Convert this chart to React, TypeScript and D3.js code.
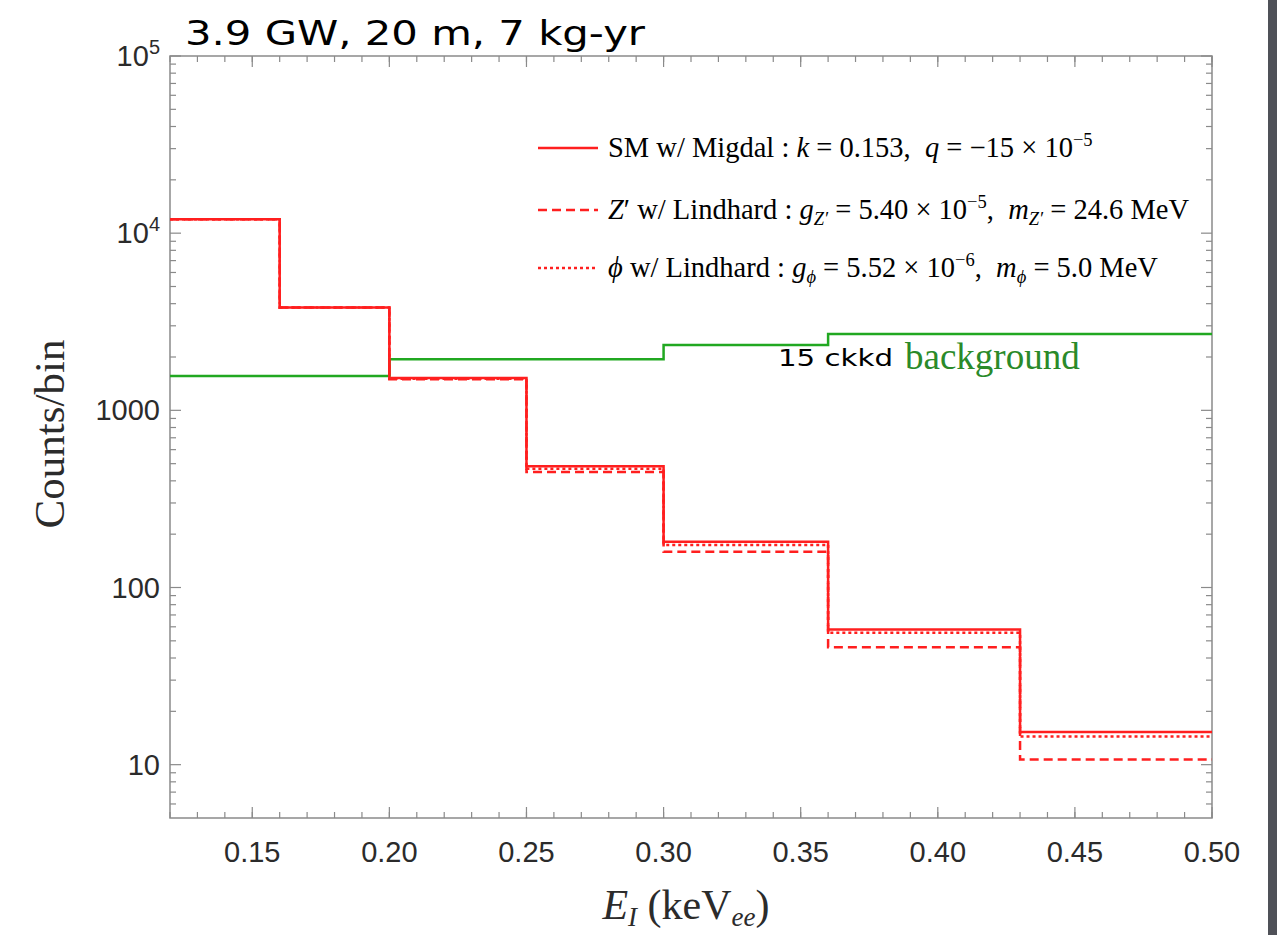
import React from "react";
import * as d3 from "d3";

const binEdges = [0.12, 0.16, 0.2, 0.25, 0.3, 0.36, 0.43, 0.5];
const smMigdal = [12000, 3800, 1520, 484, 181, 58, 15.3];
const zPrimeLindhard = [12000, 3800, 1500, 448, 159, 46, 10.7];
const phiLindhard = [12000, 3800, 1510, 468, 174, 55.5, 14.4];
const background = [1560, 1560, 1940, 1940, 2340, 2700, 2700];

const xTickLabels = ["0.15", "0.20", "0.25", "0.30", "0.35", "0.40", "0.45", "0.50"];
const yMajorTicks = [10, 100, 1000, 10000, 100000];

const W = 1277;
const H = 935;
const L = 170, R = 1212, T = 56, B = 818;

const RED = "#ff1f1f";
const GREEN = "#21a821";
const AXIS = "#8a8a8a";
const LABEL = "#2b2b2b";

export default function App() {
  const x = d3.scaleLinear().domain([0.12, 0.5]).range([L, R]);
  const y = d3.scaleLog().domain([5, 100000]).range([B, T]);

  const stepPoints = (vals: number[]) => {
    const pts: [number, number][] = [];
    vals.forEach((v, i) => {
      pts.push([x(binEdges[i]), y(v)]);
      pts.push([x(binEdges[i + 1]), y(v)]);
    });
    return pts;
  };
  const line = d3.line();

  const xMinor = d3.range(12, 51).map((d) => d / 100);
  const xMajor = xTickLabels.map((s) => +s);

  const yMinor: number[] = [];
  for (let d = 0; d < 5; d++) {
    for (let k = 2; k <= 9; k++) {
      const v = k * Math.pow(10, d);
      if (v > 5 && v < 100000) yMinor.push(v);
    }
  }

  const majLen = 11;
  const minLen = 6;

  const sansTick = "'Liberation Sans', Arial, sans-serif";
  const serif = "'Liberation Serif', 'Times New Roman', serif";
  const handFont = "'DejaVu Sans', 'Comic Sans MS', sans-serif";

  const legendRows = [
    { y: 148, dash: undefined as string | undefined },
    { y: 210, dash: "9,5" },
    { y: 268, dash: "3,3" },
  ];
  const LF = 28.5;
  const SF = 18.5;
  const pre = { whiteSpace: "pre" as const };

  return (
    <svg
      width={W}
      height={H}
      style={{ position: "absolute", left: 0, top: 0, display: "block", background: "#fff" }}
    >
      <rect x={0} y={0} width={W} height={H} fill="#fff" />
      <rect x={1268} y={0} width={9} height={H} fill="#4f5158" />

      {/* title */}
      <text x={185} y={45} fontFamily={handFont} fontSize={34} fill="#000" textLength={460} lengthAdjust="spacingAndGlyphs">
        3.9 GW, 20 m, 7 kg-yr
      </text>

      {/* frame */}
      <rect x={L} y={T} width={R - L} height={B - T} fill="none" stroke={AXIS} strokeWidth={1.5} />

      {/* x ticks */}
      {xMinor.map((v, i) => (
        <g key={"xm" + i}>
          <line x1={x(v)} x2={x(v)} y1={B} y2={B - minLen} stroke={AXIS} strokeWidth={1.2} />
          <line x1={x(v)} x2={x(v)} y1={T} y2={T + minLen} stroke={AXIS} strokeWidth={1.2} />
        </g>
      ))}
      {xMajor.map((v, i) => (
        <g key={"xM" + i}>
          <line x1={x(v)} x2={x(v)} y1={B} y2={B - majLen} stroke={AXIS} strokeWidth={1.2} />
          <line x1={x(v)} x2={x(v)} y1={T} y2={T + majLen} stroke={AXIS} strokeWidth={1.2} />
          <text x={x(v)} y={862} textAnchor="middle" fontFamily={sansTick} fontSize={29} fill={LABEL}>
            {xTickLabels[i]}
          </text>
        </g>
      ))}

      {/* y ticks */}
      {yMinor.map((v, i) => (
        <g key={"ym" + i}>
          <line x1={L} x2={L + minLen} y1={y(v)} y2={y(v)} stroke={AXIS} strokeWidth={1.2} />
          <line x1={R} x2={R - minLen} y1={y(v)} y2={y(v)} stroke={AXIS} strokeWidth={1.2} />
        </g>
      ))}
      {yMajorTicks.map((v, i) => {
        const exp = Math.round(Math.log10(v));
        const yy = y(v) + 10;
        return (
          <g key={"yM" + i}>
            <line x1={L} x2={L + majLen} y1={y(v)} y2={y(v)} stroke={AXIS} strokeWidth={1.2} />
            <line x1={R} x2={R - majLen} y1={y(v)} y2={y(v)} stroke={AXIS} strokeWidth={1.2} />
            {exp >= 4 ? (
              <text x={160} y={yy} textAnchor="end" fontFamily={sansTick} fontSize={29} fill={LABEL}>
                10<tspan dy={-12} fontSize={20}>{exp}</tspan>
              </text>
            ) : (
              <text x={160} y={yy} textAnchor="end" fontFamily={sansTick} fontSize={29} fill={LABEL}>
                {String(v)}
              </text>
            )}
          </g>
        );
      })}

      {/* axis labels */}
      <text
        transform={`translate(64, ${(T + B) / 2 - 3}) rotate(-90)`}
        textAnchor="middle"
        fontFamily={serif}
        fontSize={43}
        fill={LABEL}
      >
        Counts/bin
      </text>
      <text x={686} y={919} textAnchor="middle" fontFamily={serif} fontSize={42} fill={LABEL}>
        <tspan fontStyle="italic">E</tspan>
        <tspan fontStyle="italic" fontSize={27} dy={7}>I</tspan>
        <tspan dy={-7}> (keV</tspan>
        <tspan fontStyle="italic" fontSize={27} dy={7}>ee</tspan>
        <tspan dy={-7}>)</tspan>
      </text>

      {/* background */}
      <path d={line(stepPoints(background)) || ""} fill="none" stroke={GREEN} strokeWidth={2.5} />
      <line x1={x(0.2)} x2={x(0.2)} y1={y(background[1])} y2={y(background[2])} stroke={GREEN} strokeWidth={2.5} />

      {/* red series */}
      <path d={line(stepPoints(zPrimeLindhard)) || ""} fill="none" stroke={RED} strokeWidth={2.5} strokeDasharray="9,5" />
      <path d={line(stepPoints(phiLindhard)) || ""} fill="none" stroke={RED} strokeWidth={2.5} strokeDasharray="3,3" />
      <path d={line(stepPoints(smMigdal)) || ""} fill="none" stroke={RED} strokeWidth={2.5} />

      {/* annotation */}
      <text x={778} y={366} fontFamily={handFont} fontSize={23} fill="#000" textLength={115} lengthAdjust="spacingAndGlyphs">
        15 ckkd
      </text>
      <text x={905} y={369} fontFamily={serif} fontSize={37} fill="#2a8a2a">
        background
      </text>

      {/* legend */}
      {legendRows.map((r, i) => (
        <line key={"lg" + i} x1={538} x2={598} y1={r.y} y2={r.y} stroke={RED} strokeWidth={2.5} strokeDasharray={r.dash} />
      ))}
      <text x={608} y={157} fontFamily={serif} fontSize={LF} fill="#000" style={pre}>
        {"SM w/ Migdal : "}<tspan fontStyle="italic">k</tspan>{" = 0.153,  "}<tspan fontStyle="italic">q</tspan>{" = −15 × 10"}
        <tspan dy={-11} fontSize={SF}>−5</tspan>
      </text>
      <text x={608} y={219} fontFamily={serif} fontSize={LF} fill="#000" style={pre}>
        <tspan fontStyle="italic">Z</tspan>{"′ w/ Lindhard : "}<tspan fontStyle="italic">g</tspan>
        <tspan dy={6} fontSize={SF} fontStyle="italic">Z′</tspan>
        <tspan dy={-6}>{" = 5.40 × 10"}</tspan>
        <tspan dy={-11} fontSize={SF}>−5</tspan>
        <tspan dy={11}>{",  "}</tspan>
        <tspan fontStyle="italic">m</tspan>
        <tspan dy={6} fontSize={SF} fontStyle="italic">Z′</tspan>
        <tspan dy={-6}>{" = 24.6 MeV"}</tspan>
      </text>
      <text x={608} y={277} fontFamily={serif} fontSize={LF} fill="#000" style={pre}>
        <tspan fontStyle="italic">ϕ</tspan>{" w/ Lindhard : "}<tspan fontStyle="italic">g</tspan>
        <tspan dy={6} fontSize={SF} fontStyle="italic">ϕ</tspan>
        <tspan dy={-6}>{" = 5.52 × 10"}</tspan>
        <tspan dy={-11} fontSize={SF}>−6</tspan>
        <tspan dy={11}>{",  "}</tspan>
        <tspan fontStyle="italic">m</tspan>
        <tspan dy={6} fontSize={SF} fontStyle="italic">ϕ</tspan>
        <tspan dy={-6}>{" = 5.0 MeV"}</tspan>
      </text>
    </svg>
  );
}
